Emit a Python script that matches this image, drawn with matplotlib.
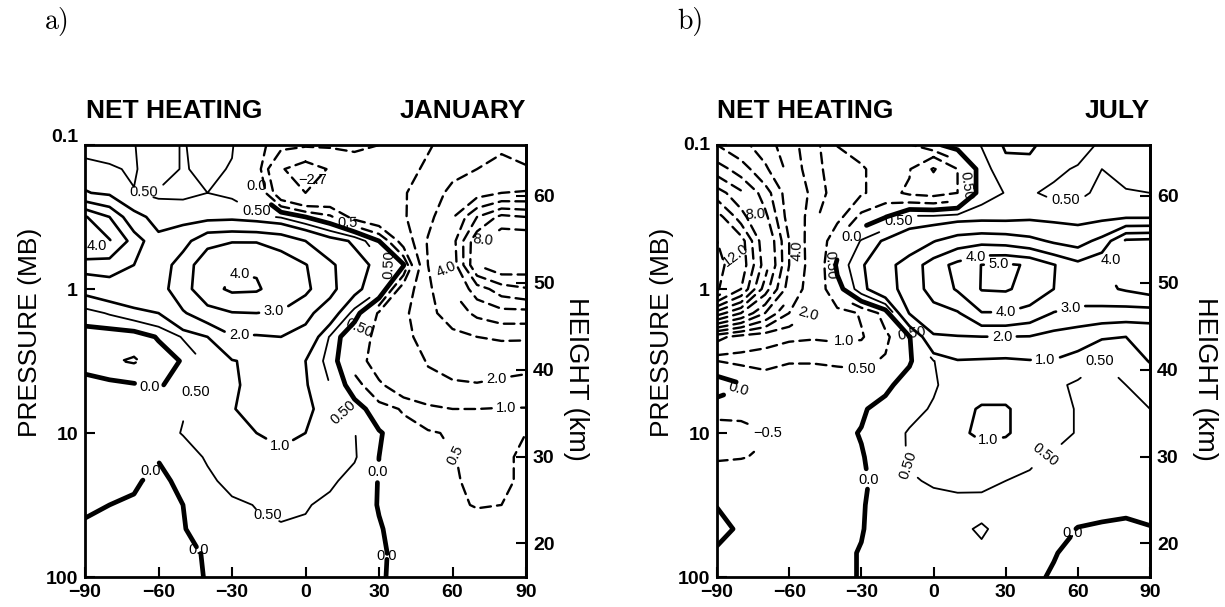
import numpy as np
import matplotlib
import matplotlib.pyplot as plt
from matplotlib.transforms import ScaledTranslation

# ---------------------------------------------------------------
# Grid: latitude (deg) and pressure (mb), six levels per decade
# ---------------------------------------------------------------
lats = [-90, -80, -70, -60, -50, -40, -30, -20, -10, 0,
        10, 20, 30, 40, 50, 60, 70, 80, 90]
pressure = [0.1, 0.147, 0.215, 0.316, 0.464, 0.681, 1.0, 1.47, 2.15,
            3.16, 4.64, 6.81, 10.0, 14.7, 21.5, 31.6, 46.4, 68.1, 100.0]

# Net heating, January (K/day); one list per pressure level, -90 .. 90
jan_p0100 = [0.3, 0.35, 0.48, 0.8, 0.45, 0.8, 0.55, -0.3, -0.8, -0.9, -0.9, -0.9, -1.0, -1.3, -1.9, -2.4, -2.8, -2.95, -2.8]
jan_p0147 = [0.7, 0.55, 0.45, 0.8, 0.45, 0.65, 0.45, -0.2, -1.9, -2.6, -1.9, -1.3, -1.3, -1.6, -2.2, -2.8, -3.0, -3.1, -3.05]
jan_p0215 = [1.05, 0.85, 0.52, 0.42, 0.42, 0.5, 0.42, 0.1, -1.5, -2.0, -1.7, -1.4, -1.4, -1.9, -2.6, -3.2, -3.6, -4.0, -4.1]
jan_p0316 = [4.1, 3.0, 1.2, 0.8, 0.75, 0.75, 0.8, 0.65, 0.45, 0.0, -0.4, -1.2, -1.5, -1.9, -2.7, -3.9, -6.0, -7.3, -7.0]
jan_p0464 = [4.6, 4.1, 2.6, 1.15, 1.6, 2.8, 2.95, 2.95, 2.7, 2.0, 1.3, 0.9, 0.0, -1.3, -3.1, -4.6, -7.8, -8.9, -9.0]
jan_p0681 = [2.4, 2.5, 2.0, 1.3, 2.6, 3.5, 3.95, 3.9, 3.5, 3.05, 2.2, 1.3, 0.8, 0.05, -3.0, -4.4, -8.0, -8.8, -8.6]
jan_p1000 = [1.2, 1.4, 1.6, 1.6, 2.6, 3.7, 4.15, 4.1, 3.6, 3.2, 2.3, 1.2, 0.55, -1.4, -2.8, -4.0, -5.5, -6.5, -6.9]
jan_p1470 = [0.3, 0.55, 0.8, 1.0, 1.9, 2.6, 2.95, 3.0, 2.9, 2.3, 1.4, 0.3, -1.1, -1.8, -2.7, -3.5, -4.2, -4.6, -4.6]
jan_p2150 = [-0.3, -0.35, -0.3, 0.05, 0.55, 1.0, 1.9, 1.9, 2.0, 1.6, 0.45, -0.6, -1.2, -1.8, -2.3, -2.7, -3.0, -3.1, -3.1]
jan_p3160 = [-0.2, -0.45, -0.55, -0.3, 0.05, 0.6, 0.95, 1.2, 1.15, 1.0, 0.3, -0.7, -1.3, -1.6, -2.05, -2.3, -2.4, -2.4, -2.3]
jan_p4640 = [0.2, 0.15, 0.05, -0.08, 0.3, 0.6, 0.9, 1.2, 1.2, 1.05, 0.5, -0.3, -0.9, -1.4, -1.8, -1.9, -1.95, -1.8, -1.7]
jan_p6810 = [0.2, 0.25, 0.3, 0.35, 0.48, 0.7, 0.95, 1.3, 1.3, 1.15, 0.7, 0.25, -0.3, -0.55, -0.8, -1.0, -1.0, -0.95, -0.95]
jan_p10 = [0.2, 0.25, 0.3, 0.35, 0.52, 0.7, 0.9, 1.0, 1.05, 1.0, 0.8, 0.52, 0.05, -0.3, -0.45, -0.55, -0.6, -0.6, -0.5]
jan_p14 = [0.15, 0.2, 0.2, 0.02, 0.3, 0.55, 0.8, 0.9, 0.95, 0.95, 0.8, 0.55, 0.0, -0.3, -0.4, -0.48, -0.6, -0.55, -0.45]
jan_p21 = [0.1, 0.08, 0.05, -0.1, 0.1, 0.4, 0.65, 0.8, 0.85, 0.75, 0.6, 0.3, -0.02, -0.3, -0.4, -0.45, -0.6, -0.55, -0.45]
jan_p32 = [0.05, 0.0, -0.05, -0.15, 0.0, 0.25, 0.4, 0.52, 0.6, 0.55, 0.35, 0.2, -0.02, -0.2, -0.35, -0.45, -0.52, -0.5, -0.4]
jan_p46 = [-0.05, -0.1, -0.15, -0.15, -0.02, 0.15, 0.3, 0.4, 0.45, 0.4, 0.3, 0.2, 0.03, -0.15, -0.25, -0.3, -0.35, -0.35, -0.3]
jan_p68 = [-0.1, -0.12, -0.15, -0.15, -0.08, 0.03, 0.2, 0.3, 0.35, 0.3, 0.25, 0.15, 0.05, -0.1, -0.2, -0.25, -0.25, -0.25, -0.2]
jan_p100 = [-0.1, -0.12, -0.15, -0.12, -0.05, 0.01, 0.15, 0.25, 0.3, 0.3, 0.25, 0.15, 0.04, -0.1, -0.15, -0.2, -0.2, -0.2, -0.15]

# Net heating, July
jul_p0100 = [-6.0, -5.3, -4.5, -3.4, -2.4, -0.98, -0.85, -0.7, -0.55, -0.1, 0.2, 0.52, 1.08, 1.1, 0.75, 0.7, 0.42, 0.4, 0.4]
jul_p0147 = [-7.5, -6.5, -5.2, -3.7, -2.4, -1.4, -1.05, -0.8, -0.95, -2.1, -1.0, 0.3, 0.8, 0.8, 0.6, 0.45, 0.5, 0.42, 0.4]
jul_p0215 = [-9.5, -8.2, -6.5, -4.4, -2.6, -1.5, -1.05, -0.8, -1.1, -1.2, -1.0, 0.3, 0.52, 0.55, 0.4, 0.4, 0.6, 0.52, 0.5]
jul_p0316 = [-11.5, -9.5, -7.3, -4.5, -2.2, -1.2, -0.35, -0.02, 0.6, 0.6, 0.7, 0.75, 0.75, 0.85, 0.8, 0.75, 0.8, 0.9, 0.9]
jul_p0464 = [-13.0, -11.5, -8.2, -5.0, -1.9, -0.35, 0.55, 1.1, 1.5, 1.95, 2.5, 2.7, 2.6, 2.3, 1.85, 1.6, 2.3, 4.2, 4.3]
jul_p0681 = [-13.6, -11.7, -8.5, -5.0, -2.0, 0.15, 0.9, 1.7, 2.4, 3.5, 4.3, 5.02, 5.15, 4.9, 4.05, 3.3, 3.9, 4.5, 4.6]
jul_p1000 = [-13.2, -11.0, -7.5, -4.5, -1.8, -0.25, 0.8, 1.6, 2.4, 3.4, 4.1, 5.05, 5.1, 4.7, 4.0, 3.4, 3.8, 4.1, 4.4]
jul_p1470 = [-8.5, -7.0, -5.0, -3.0, -1.8, -1.25, -0.95, -0.3, 2.05, 2.6, 2.9, 3.95, 3.95, 3.6, 2.95, 2.8, 2.6, 2.5, 2.5]
jul_p2150 = [-2.3, -1.6, -1.3, -1.1, -1.05, -1.1, -1.05, -0.6, -0.05, 1.9, 1.95, 1.98, 1.98, 1.95, 1.6, 1.3, 1.05, 1.0, 1.2]
jul_p3160 = [-0.5, -0.6, -0.6, -0.52, -0.52, -0.55, -0.6, -0.45, -0.05, 0.48, 0.95, 0.9, 0.85, 0.95, 0.95, 0.75, 0.48, 0.7, 1.03]
jul_p4640 = [0.35, 0.05, -0.3, -0.3, -0.3, -0.3, -0.25, -0.1, 0.2, 0.45, 0.7, 0.8, 0.8, 0.75, 0.6, 0.42, 0.45, 0.5, 0.6]
jul_p6810 = [-0.4, -0.4, -0.35, -0.25, -0.2, -0.15, -0.05, 0.15, 0.35, 0.55, 0.85, 1.05, 1.05, 0.8, 0.6, 0.48, 0.4, 0.42, 0.5]
jul_p10 = [-0.65, -0.62, -0.52, -0.3, -0.2, -0.1, 0.02, 0.25, 0.55, 0.7, 0.9, 1.1, 1.05, 0.8, 0.6, 0.48, 0.4, 0.38, 0.38]
jul_p14 = [-0.55, -0.52, -0.45, -0.3, -0.2, -0.1, -0.03, 0.2, 0.55, 0.65, 0.7, 0.75, 0.7, 0.55, 0.45, 0.4, 0.35, 0.33, 0.33]
jul_p21 = [-0.2, -0.2, -0.2, -0.15, -0.1, -0.05, -0.05, 0.12, 0.45, 0.55, 0.58, 0.56, 0.5, 0.45, 0.4, 0.35, 0.3, 0.3, 0.3]
jul_p32 = [-0.01, -0.1, -0.15, -0.15, -0.1, -0.06, -0.02, 0.1, 0.25, 0.35, 0.4, 0.42, 0.35, 0.3, 0.3, 0.1, 0.06, 0.05, 0.05]
jul_p46 = [0.1, -0.05, -0.1, -0.1, -0.08, -0.05, -0.01, 0.08, 0.2, 0.3, 0.45, 0.53, 0.42, 0.2, 0.1, -0.01, -0.03, -0.05, -0.01]
jul_p68 = [-0.05, -0.08, -0.1, -0.1, -0.08, -0.04, 0.01, 0.06, 0.15, 0.25, 0.3, 0.45, 0.25, 0.12, 0.01, -0.05, -0.08, -0.08, -0.06]
jul_p100 = [-0.05, -0.08, -0.1, -0.1, -0.08, -0.04, 0.01, 0.05, 0.12, 0.2, 0.25, 0.25, 0.18, 0.04, -0.02, -0.08, -0.1, -0.1, -0.1]

jan_rows = [jan_p0100, jan_p0147, jan_p0215, jan_p0316, jan_p0464, jan_p0681, jan_p1000,
            jan_p1470, jan_p2150, jan_p3160, jan_p4640, jan_p6810, jan_p10, jan_p14,
            jan_p21, jan_p32, jan_p46, jan_p68, jan_p100]
jul_rows = [jul_p0100, jul_p0147, jul_p0215, jul_p0316, jul_p0464, jul_p0681, jul_p1000,
            jul_p1470, jul_p2150, jul_p3160, jul_p4640, jul_p6810, jul_p10, jul_p14,
            jul_p21, jul_p32, jul_p46, jul_p68, jul_p100]

pos_levels = [0.5, 1.0, 2.0, 3.0, 4.0, 5.0]
neg_levels = [-14, -13, -12, -11, -10, -9, -8, -7, -6, -5, -4, -3, -2, -1, -0.5]

lat_ticks = [-90, -60, -30, 0, 30, 60, 90]
lat_labels = ['\u221290', '\u221260', '\u221230', '0', '30', '60', '90']
p_ticks = [0.1, 1, 10, 100]
p_labels = ['0.1', '1', '10', '100']
z_ticks = [20, 30, 40, 50, 60]

# Contour labels: (level, lat, pressure, text, follow the line?)
jan_labels = [
    (0.5, -20, 0.31, '0.50', False), (0.5, 34.5, 0.82, '0.50', True),
    (0.5, -45, 5.0, '0.50', False), (0.5, 17, 6.2, '0.50', True),
    (0.5, -17, 38, '0.50', False), (0.5, -66, 0.157, '0.50', True),
    (1.0, -11, 12.8, '1.0', False), (2.0, -27, 2.0, '2.0', False),
    (3.0, -13, 1.48, '3.0', False), (4.0, -85, 0.5, '4.0', False),
    (4.0, -27, 0.87, '4.0', False),
    (-0.5, 17, 0.34, '0.5', True), (-0.5, 22, 1.82, '0.50', True),
    (-0.5, 60, 14.6, '0.5', True), (-4, 57.6, 0.6, '4.0', True),
    (-8, 72.6, 0.457, '8.0', True), (-2, 78, 4.17, '2.0', False),
    (-1, 82, 6.56, '1.0', False),
    (0, -20, 0.127, '0.0', False), (0, -64, 6.0, '0.0', False),
    (0, -67.5, 16.7, '0.0', False), (0, -42, 65, '0.0', False),
    (0, 30, 18.7, '0.0', False), (0, 35, 72, '0.0', False),
]
jul_labels = [
    (-8, -74, 0.32, '8.0', True), (-12, -82.4, 0.66, '12.0', True),
    (-4, -56, 0.43, '4.0', True), (-2, -52, 1.33, '2.0', True),
    (-1, -37, 2.4, '1.0', False), (-0.5, -30, 3.5, '0.50', False),
    (-0.5, -44, 0.51, '0.50', True), (-0.5, -67, 10, '\u22120.5', False),
    (-0.5, 14, 0.19, '0.50', True),
    (0, -34, 0.39, '0.0', False), (0, -81, 5.6, '0.0', True),
    (0, -25.6, 21, '0.0', False), (0, 62, 50, '0.0', False),
    (0.5, -14.5, 0.33, '0.50', False), (0.5, -9, 1.8, '0.50', True),
    (0.5, 55, 0.2, '0.50', True),
    (4.0, 17.4, 0.54, '4.0', False), (5.0, 27, 0.72, '5.0', False),
    (4.0, 30, 1.48, '4.0', False), (3.0, 57, 1.22, '3.0', False),
    (4.0, 73.5, 0.565, '4.0', False), (2.0, 28.5, 2.14, '2.0', False),
    (1.0, 46.5, 2.58, '1.0', False), (0.5, 69, 2.95, '0.50', False),
    (1.0, 23, 11.7, '1.0', False), (0.5, 48, 15.9, '0.50', True),
    (0.5, -10, 16.6, '0.50', True),
]

SANS = 'Liberation Sans'
H_SCALE = 7.2      # km, scale height used for the height axis
P_REF = 940.0      # mb
W, H = 1225.0, 607.0


def p_to_z(p):
    return H_SCALE * np.log(P_REF / np.asarray(p, dtype=float))


def z_to_p(z):
    return P_REF * np.exp(-np.asarray(z, dtype=float) / H_SCALE)


def panel(fig, ax, rows, labels, p01_shift):
    field = np.array(rows)
    X, Y = np.meshgrid(lats, pressure)
    sets = {}
    for lev in neg_levels:
        cs = ax.contour(X, Y, field, levels=[lev], colors='k', linewidths=1.7)
        cs.set_linestyle((0, (4.5, 2.6)))
        sets[lev] = cs
    sets[0] = ax.contour(X, Y, field, levels=[0.0], colors='k', linewidths=3.4)
    for lev in pos_levels:
        lw = 1.3 if lev == 0.5 else 1.9
        sets[lev] = ax.contour(X, Y, field, levels=[lev], colors='k', linewidths=lw)
    for cs in sets.values():
        cs.set_joinstyle('round')
        cs.set_capstyle('round')

    for lev, la, pr, txt, follow in labels:
        cs = sets[lev]
        if not cs.allsegs[0]:
            continue
        out = cs.clabel(manual=[(la, pr)], inline=True, inline_spacing=3,
                        fontsize=10.5, fmt=lambda v, s=txt: s)
        if len(out):
            t = out[-1]
            t.set_text(txt)
            t.set_fontfamily(SANS)
            if not follow:
                t.set_rotation(0)

    ax.set_yscale('log')
    ax.set_xlim(-90, 90)
    ax.set_ylim(100, 0.1)
    ax.set_xticks(lat_ticks)
    ax.set_xticklabels(lat_labels)
    ax.set_yticks(p_ticks)
    ax.set_yticklabels(p_labels)
    ax.yaxis.set_minor_locator(matplotlib.ticker.NullLocator())
    ax.tick_params(direction='in', length=7, width=1.5, labelsize=14, pad=5)
    for lab in ax.get_xticklabels() + ax.get_yticklabels():
        lab.set_fontfamily(SANS)
        lab.set_fontweight('bold')
    top = ax.get_yticklabels()[0]
    top.set_transform(top.get_transform() +
                      ScaledTranslation(0, p01_shift / 100.0, fig.dpi_scale_trans))
    for s in ax.spines.values():
        s.set_linewidth(2.0)

    sec = ax.secondary_yaxis('right', functions=(p_to_z, z_to_p))
    sec.set_yticks(z_ticks)
    sec.set_yticklabels([str(z) for z in z_ticks])
    sec.tick_params(direction='in', length=7, width=1.5, labelsize=14, pad=5)
    for lab in sec.get_yticklabels():
        lab.set_fontfamily(SANS)
        lab.set_fontweight('bold')
    sec.yaxis.set_minor_locator(matplotlib.ticker.NullLocator())
    sec.spines['right'].set_linewidth(2.0)
    return ax


fig = plt.figure(figsize=(12.25, 6.07), dpi=100)
axa = fig.add_axes([85 / W, 1 - 577 / H, 441 / W, 432 / H])
axb = fig.add_axes([717 / W, 1 - 577 / H, 433 / W, 432 / H])

panel(fig, axa, jan_rows, jan_labels, 10)
axa.text(3, 0.175, '\u22122.7', fontsize=10.5, family=SANS, ha='center', va='center')
panel(fig, axb, jul_rows, jul_labels, 2)

# Titles and axis titles (placed in figure pixels)
for x0, x1, right, xp, xz in [(86, 526, 'JANUARY', 30, 576),
                              (717, 1150, 'JULY', 662, 1205)]:
    fig.text(x0 / W, 1 - 111 / H, 'NET HEATING', fontsize=19, fontweight='bold',
             family=SANS, ha='left', va='center')
    fig.text(x1 / W, 1 - 111 / H, right, fontsize=19, fontweight='bold',
             family=SANS, ha='right', va='center')
    fig.text(xp / W, 1 - 332 / H, 'PRESSURE (MB)', fontsize=19, family=SANS,
             rotation=90, ha='center', va='center')
    fig.text(xz / W, 1 - 379 / H, 'HEIGHT (km)', fontsize=19.5, family=SANS,
             rotation=-90, ha='center', va='center')

fig.text(45 / W, 1 - 21 / H, 'a)', fontsize=20, family='cmr10', ha='left', va='center')
fig.text(677 / W, 1 - 21 / H, 'b)', fontsize=20, family='cmr10', ha='left', va='center')

fig.savefig('out.png', dpi=100)
